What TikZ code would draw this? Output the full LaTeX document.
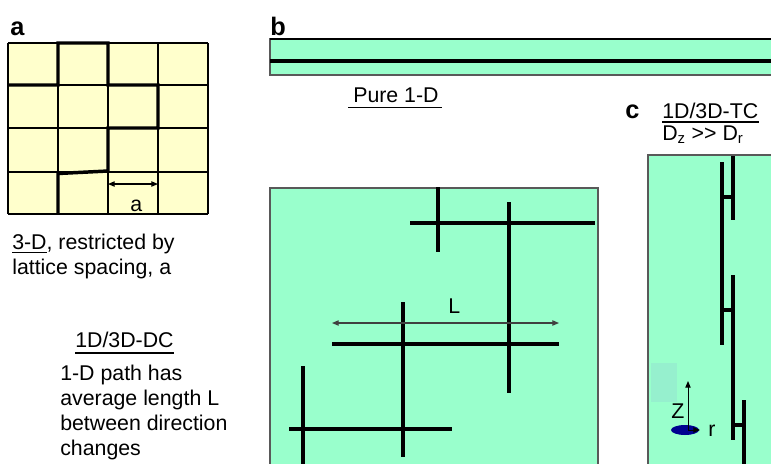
\documentclass[tikz,border=0pt]{standalone}
\usepackage{fontspec}
\setmainfont{Liberation Sans}
\usetikzlibrary{arrows.meta,positioning,calc}

\definecolor{latticeyellow}{HTML}{FFFFCC}
\definecolor{chanmint}{HTML}{99FFCC}
\definecolor{chanfaint}{RGB}{150,240,206}
\definecolor{discnavy}{HTML}{000090}

\tikzset{
  txt/.style={inner sep=0pt, font=\fontsize{16}{18.75}\selectfont},
  panel/.style={inner sep=0pt, font=\fontsize{19}{22}\selectfont\bfseries},
  path1d/.style={line width=2.6pt},
  cellline/.style={line width=0.9pt},
  chanbox/.style={fill=chanmint, draw=black!65, line width=0.8pt},
  dimarrow/.style={{Triangle[length=5pt,width=4pt]}-{Triangle[length=5pt,width=4pt]}, line width=0.8pt},
  ulbar/.style={line width=1.4pt},
}

\begin{document}
\begin{tikzpicture}[x=0.75pt,y=-0.75pt]
    \clip (0,0) rectangle (771,464);

    % panel a: lattice
    \node[panel, anchor=base west] (la) at (10,35) {a};
    \fill[latticeyellow] (8,43) rectangle (208,214);
    \foreach \x in {8,58,108,158,208}
        \draw[cellline] (\x,43) -- (\x,214);
    \foreach \y in {43,85,128,172,214}
        \draw[cellline] (8,\y) -- (208,\y);
    \draw[path1d] (8,85) -- (58,85) -- (58,43) -- (108,43) -- (108,85) -- (158,85)
        -- (158,128) -- (108,128) -- (108,171) -- (58,173.5) -- (58,214);
    \coordinate (aL) at (108,184);
    \coordinate (aR) at (158,184);
    \draw[dimarrow] (aL) -- (aR);
    \node[txt, anchor=base west] (aval) at (130,211) {a};
    \node[txt, anchor=north west, align=left] (adesc) at (12,234)
        {\underline{3-D}, restricted by\\lattice spacing, a};

    % panel b: pure 1-D
    \node[panel, anchor=base west] (lb) at (270,35) {b};
    \draw[chanbox] (270,39) rectangle (780,75);
    \draw[black, line width=1.2pt] (270,39) -- (780,39);
    \draw[path1d] (270,61) -- (780,61);
    \node[txt, anchor=base west] (pure) at (353,102) {Pure 1-D};
    \draw[line width=0.9pt] ([xshift=-3.5pt,yshift=-4pt]pure.base west) -- ([xshift=2pt,yshift=-4pt]pure.base east);

    % 1D/3D-DC
    \draw[chanbox] (270,188) rectangle (598,480);
    \draw[path1d] (438,187) -- (438,252);
    \draw[path1d] (410,223) -- (595,223);
    \draw[path1d] (509,202) -- (509,393);
    \draw[path1d] (332,344) -- (559,344);
    \draw[path1d] (403,302) -- (403,457);
    \draw[path1d] (289,429) -- (452,429);
    \draw[path1d] (303,366) -- (303,470);
    \coordinate (lL) at (332,323);
    \coordinate (lR) at (559,323);
    \draw[dimarrow, black!75] (lL) -- (lR);
    \node[txt, anchor=base west] (lval) at (448,313) {L};

    \node[txt, anchor=base west] (dc) at (75,347) {1D/3D-DC};
    \draw[ulbar] ([yshift=-4.5pt]dc.base west) -- ([yshift=-4.5pt]dc.base east);
    \node[txt, anchor=north west, align=left] (dcdesc) at (60,365)
        {1-D path has\\average length L\\between direction\\changes};

    % panel c: 1D/3D-TC
    \node[panel, anchor=base west] (lc) at (625,118) {c};
    \node[txt, anchor=base west] (tc) at (662,118) {1D/3D-TC};
    \draw[ulbar] ([yshift=-3pt]tc.base west) -- ([yshift=-3pt]tc.base east);
    \node[txt, anchor=base west] (dzdr) at (662,140)
        {D\textsubscript{z} >\kern0pt> D\textsubscript{r}};
    \draw[chanbox] (648,155) rectangle (790,480);
    \fill[chanfaint] (651,363) rectangle (677,402);
    \draw[path1d] (722,162) -- (722,345);
    \draw[path1d] (733,156) -- (733,220);
    \draw[path1d] (722,197) -- (733,197);
    \draw[path1d] (733,275) -- (733,440);
    \draw[path1d] (722,310) -- (733,310);
    \draw[path1d] (744,400) -- (744,470);
    \draw[path1d] (733,425) -- (744,425);

    % axes
    \fill[discnavy] (685,430) ellipse (14 and 5);
    \coordinate (orig) at (688,430);
    \coordinate (ztip) at (688,381);
    \coordinate (rtip) at (700,430);
    \draw[-{Triangle[length=5pt,width=4pt]}, line width=0.7pt] (orig) -- (ztip);
    \draw[-{Triangle[length=5pt,width=4pt]}, line width=0.7pt] (orig) -- (rtip);
    \node[txt, anchor=base west] (zlab) at (671,418) {Z};
    \node[txt, anchor=base west] (rlab) at (708,436) {r};
\end{tikzpicture}
\end{document}
